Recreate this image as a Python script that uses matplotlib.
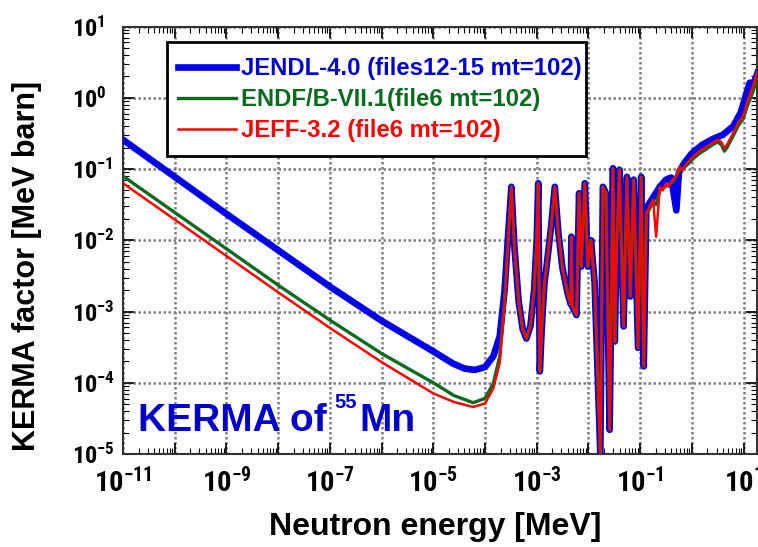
import numpy as np
import matplotlib
matplotlib.use("Agg")
import matplotlib.pyplot as plt
from matplotlib import font_manager
from matplotlib.patches import Rectangle
from matplotlib.ticker import FixedLocator, FuncFormatter, LogLocator, NullFormatter

# ---- fonts: Arial-like bold for texts, a narrow bold sans for tick numbers ----
fl = font_manager.fontManager.ttflist
names = {f.name for f in fl}
MAIN = 'Liberation Sans'
NARROW = None
for cand in ['Liberation Sans Narrow', 'Arial Narrow', 'Roboto Condensed', 'Open Sans Condensed',
             'Noto Sans Condensed', 'DejaVu Sans Condensed']:
    if cand in names:
        NARROW = cand
        break
if NARROW is None:
    NARROW = MAIN

plt.rcParams['font.family'] = [MAIN, 'DejaVu Sans']
plt.rcParams['font.weight'] = 'bold'
plt.rcParams['mathtext.fontset'] = 'custom'
plt.rcParams['mathtext.rm'] = MAIN + ':bold'
plt.rcParams['mathtext.bf'] = MAIN + ':bold'
plt.rcParams['mathtext.it'] = MAIN + ':bold'
plt.rcParams['mathtext.sf'] = NARROW + ':bold'

# ---- data: log10(E [MeV]) and log10(KERMA [MeV barn]) ----
blue_low_logE = [-11, -10, -9, -8, -7, -6, -5, -4.62, -4.4, -4.2, -4.0, -3.84, -3.715, -3.62, -3.55]
blue_low_logK = [-0.59, -1.11, -1.63, -2.14, -2.65, -3.13, -3.56, -3.73, -3.80, -3.82, -3.78, -3.63, -3.35, -2.70, -1.90]

green_low_logE = [-11, -10, -9, -8, -7, -6, -5, -4.6, -4.23, -4.0, -3.84, -3.715, -3.62, -3.55]
green_low_logK = [-1.10, -1.61, -2.12, -2.63, -3.12, -3.59, -4.00, -4.18, -4.28, -4.22, -4.01, -3.63, -2.84, -1.98]

red_low_logE = [-11, -10, -9, -8, -7, -6, -5, -4.6, -4.23, -4.0, -3.84, -3.715, -3.62, -3.55]
red_low_logK = [-1.20, -1.71, -2.22, -2.73, -3.23, -3.71, -4.15, -4.27, -4.34, -4.29, -4.08, -3.72, -2.88, -2.00]

# resolved-resonance region (common to all three evaluations)
res_logE = [-3.49, -3.43, -3.35, -3.27, -3.20, -3.12, -3.05, -3.00, -2.97, -2.955, -2.94, -2.90,
            -2.85, -2.81, -2.72, -2.65, -2.58, -2.50, -2.40, -2.34, -2.33, -2.31, -2.23, -2.18,
            -2.14, -2.07, -2.01, -1.95, -1.88, -1.77, -1.72, -1.66, -1.59, -1.525, -1.49, -1.46,
            -1.40, -1.32, -1.255, -1.19, -1.125, -1.04, -0.98, -0.93]
res_logK = [-1.25, -2.10, -2.85, -3.25, -3.38, -3.20, -2.70, -2.00, -1.20, -2.50, -3.84, -3.20,
            -2.60, -2.37, -1.80, -1.25, -1.90, -2.40, -2.75, -2.90, -1.95, -2.93, -3.05, -1.34,
            -2.37, -1.20, -2.37, -2.00, -2.60, -4.99, -1.25, -1.34, -4.66, -0.99, -3.42, -2.23,
            -1.01, -3.21, -1.11, -2.79, -1.15, -3.51, -1.11, -3.77]

blue_fast_logE = [-0.88, -0.75, -0.62, -0.50, -0.40, -0.30, -0.25, -0.15, 0.0, 0.2, 0.4, 0.6, 0.8,
                  0.95, 1.05, 1.12, 1.20, 1.27]
blue_fast_logK = [-1.55, -1.40, -1.25, -1.15, -1.12, -1.58, -1.05, -0.92, -0.78, -0.66, -0.58,
                  -0.52, -0.40, -0.20, 0.05, 0.21, 0.21, 0.35]

green_fast_logE = [-0.88, -0.75, -0.69, -0.62, -0.50, -0.37, -0.24, -0.10, 0.02, 0.15, 0.28, 0.40,
                   0.50, 0.57, 0.63, 0.68, 0.73, 0.81, 0.89, 0.99, 1.08, 1.18, 1.27]
green_fast_logK = [-1.65, -1.46, -1.50, -1.30, -1.24, -1.18, -1.02, -0.95, -0.86, -0.78, -0.72,
                   -0.66, -0.62, -0.66, -0.75, -0.70, -0.63, -0.52, -0.40, -0.30, -0.10, 0.08, 0.30]

red_fast_logE = [-0.88, -0.75, -0.69, -0.62, -0.56, -0.50, -0.45, -0.37, -0.30, -0.24, -0.18,
                 -0.10, 0.02, 0.15, 0.28, 0.40, 0.50, 0.57, 0.63, 0.68, 0.73, 0.81, 0.89, 0.99,
                 1.08, 1.18, 1.27]
red_fast_logK = [-1.62, -1.43, -1.95, -1.25, -1.30, -1.20, -1.25, -1.15, -1.10, -0.97, -1.02,
                 -0.92, -0.83, -0.75, -0.69, -0.63, -0.59, -0.62, -0.71, -0.66, -0.59, -0.48,
                 -0.36, -0.26, -0.05, 0.16, 0.37]

labels = ['JENDL-4.0 (files12-15 mt=102)', 'ENDF/B-VII.1(file6 mt=102)', 'JEFF-3.2 (file6 mt=102)']
colors = ['#0000E6', '#0A6B1E', '#FF0000']
text_colors = ['#0000CC', '#0A6B1E', '#FF0000']
x_tick_exps = list(range(-11, 2))
x_label_exps = [-11, -9, -7, -5, -3, -1, 1]
y_tick_exps = list(range(-5, 2))


def series(low_e, low_k, fast_e, fast_k):
    le = np.array(low_e + res_logE + fast_e)
    lk = np.array(low_k + res_logK + fast_k)
    return 10.0 ** le, 10.0 ** lk


fig = plt.figure(figsize=(7.58, 5.47), dpi=100)
ax = fig.add_axes([123 / 758, 93 / 547, 634 / 758, 427.5 / 547])

E_b, K_b = series(blue_low_logE, blue_low_logK, blue_fast_logE, blue_fast_logK)
E_g, K_g = series(green_low_logE, green_low_logK, green_fast_logE, green_fast_logK)
E_r, K_r = series(red_low_logE, red_low_logK, red_fast_logE, red_fast_logK)

l1, = ax.plot(E_b, K_b, color=colors[0], lw=4.8, zorder=3)
l2, = ax.plot(E_g, K_g, color=colors[1], lw=2.4, zorder=4)
l3, = ax.plot(E_r, K_r, color=colors[2], lw=1.8, zorder=5)

ax.set_xscale('log')
ax.set_yscale('log')
ax.set_xlim(1e-11, 10 ** 1.26)
ax.set_ylim(1e-5, 1e1)


def sci(v):
    return r'$\mathsf{10^{%d}}$' % round(np.log10(v))


ax.xaxis.set_major_locator(FixedLocator([10.0 ** e for e in x_tick_exps]))
ax.xaxis.set_major_formatter(FuncFormatter(
    lambda v, p: sci(v) if round(np.log10(v)) in x_label_exps else ''))
ax.yaxis.set_major_locator(FixedLocator([10.0 ** e for e in y_tick_exps]))
ax.yaxis.set_major_formatter(FuncFormatter(lambda v, p: sci(v)))
ax.xaxis.set_minor_locator(LogLocator(base=10, subs=np.arange(2, 10), numticks=40))
ax.yaxis.set_minor_locator(LogLocator(base=10, subs=np.arange(2, 10), numticks=40))
ax.xaxis.set_minor_formatter(NullFormatter())
ax.yaxis.set_minor_formatter(NullFormatter())

ax.tick_params(which='major', direction='in', length=8, width=1.2, top=True, right=True)
ax.tick_params(axis='x', which='major', labelsize=20.5, pad=10)
ax.tick_params(axis='y', which='major', labelsize=17.5, pad=37)
ax.tick_params(which='minor', direction='in', length=4, width=0.8, top=True, right=True)
for t in ax.get_yticklabels():
    t.set_horizontalalignment('left')
for s in ax.spines.values():
    s.set_linewidth(1.5)
    s.set_color('#333333')

ax.grid(True, which='major', color='#808080', linestyle=(0, (1, 1)), linewidth=1.8, zorder=1)
ax.set_axisbelow(True)

ax.set_xlabel('Neutron energy [MeV]', fontsize=23, fontweight='bold')
ax.xaxis.set_label_coords(0.492, -0.135)
ax.set_ylabel('KERMA factor [MeV barn]', fontsize=22, fontweight='bold')
ax.yaxis.set_label_coords(-0.127, 0.44)

t1 = ax.text(0.024, 0.035, 'KERMA of', transform=ax.transAxes, fontsize=28,
             fontweight='bold', color='#0000CC', ha='left', va='bottom', zorder=6)
ax.annotate('55', xy=(1, 1), xycoords=t1, xytext=(5, 7.5), textcoords='offset points',
            fontsize=14.5, fontweight='bold', color='#0000CC', ha='left', va='top', zorder=6)
ax.annotate('Mn', xy=(1, 0), xycoords=t1, xytext=(23, 0), textcoords='offset points',
            fontsize=28, fontweight='bold', color='#0000CC', ha='left', va='bottom', zorder=6)

# legend box (frame drawn separately, entries from the legend)
ax.add_patch(Rectangle((0.0694, 0.6971), 0.7303 - 0.0694, 0.9637 - 0.6971, transform=ax.transAxes,
                       facecolor='white', edgecolor='black', linewidth=2.0, zorder=9))
leg = ax.legend([l1, l2, l3], labels, loc='upper left', bbox_to_anchor=(0.071, 0.950),
                prop={'size': 17.2, 'weight': 'bold'}, frameon=False,
                handlelength=2.45, handletextpad=0.2, borderpad=0.4, labelspacing=0.33,
                borderaxespad=0)
for t, c in zip(leg.get_texts(), text_colors):
    t.set_color(c)
leg.set_zorder(10)

fig.savefig('out.png', dpi=100)
